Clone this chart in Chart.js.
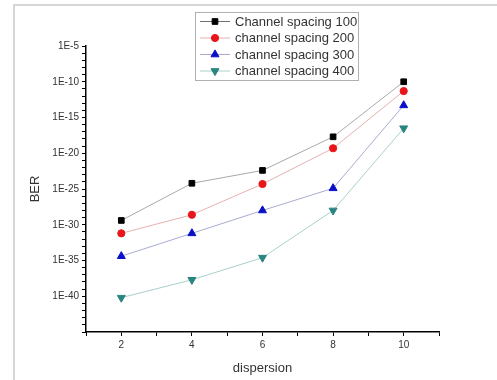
<!DOCTYPE html>
<html>
<head>
<meta charset="utf-8">
<script src="https://cdn.jsdelivr.net/npm/chart.js@4/dist/chart.umd.min.js"></script>
<style>
html,body{margin:0;padding:0;background:#fff;}
#wrap{position:relative;width:497px;height:380px;}
</style>
</head>
<body>
<div id="wrap"><canvas id="c" width="497" height="380"></canvas></div>
<script>
// ---- data (exponents of BER) ----
const dispersion = [2, 4, 6, 8, 10];
const seriesNames = ['Channel spacing 100', 'channel spacing 200', 'channel spacing 300', 'channel spacing 400'];
const cs100Exp = [-29.4, -24.2, -22.4, -17.7, -10.0];
const cs200Exp = [-31.2, -28.6, -24.3, -19.3, -11.3];
const cs300Exp = [-34.4, -31.2, -28.0, -24.9, -13.3];
const cs400Exp = [-40.2, -37.7, -34.6, -28.0, -16.5];
const yTickExp = [-5, -10, -15, -20, -25, -30, -35, -40];
const xTickLabels = [2, 4, 6, 8, 10];

const markerColors = ['#000000', '#e8161b', '#0a10c8', '#2a8580'];
const lineColors = ['#a8a8a8', '#e8b0b0', '#a8acd0', '#a8d0cc'];
const styles = ['rect', 'circle', 'triangle', 'triangle'];
const rotations = [0, 0, 0, 180];
const radii = [4, 3.6, 4.6, 4.6];
const allExp = [cs100Exp, cs200Exp, cs300Exp, cs400Exp];

const datasets = allExp.map((exps, i) => ({
  label: seriesNames[i],
  data: dispersion.map((x, j) => ({x: x, y: Math.pow(10, exps[j])})),
  borderColor: lineColors[i],
  borderWidth: 1,
  backgroundColor: markerColors[i],
  pointBackgroundColor: markerColors[i],
  pointBorderColor: markerColors[i],
  pointBorderWidth: 1,
  pointStyle: styles[i],
  pointRotation: rotations[i],
  pointRadius: radii[i],
  pointHoverRadius: radii[i],
  tension: 0,
  fill: false
}));

const FONT = '"Liberation Sans", Arial, sans-serif';

function drawMarker(ctx, style, rot, r, x, y, color) {
  ctx.save();
  ctx.fillStyle = color;
  ctx.strokeStyle = color;
  ctx.lineWidth = 1;
  ctx.translate(x, y);
  ctx.rotate(rot * Math.PI / 180);
  ctx.beginPath();
  if (style === 'rect') {
    const s = r / Math.SQRT2;
    ctx.rect(-s, -s, 2 * s, 2 * s);
  } else if (style === 'circle') {
    ctx.arc(0, 0, r, 0, Math.PI * 2);
  } else {
    ctx.moveTo(0, -r);
    ctx.lineTo(r * Math.sin(Math.PI / 3), r * 0.5);
    ctx.lineTo(-r * Math.sin(Math.PI / 3), r * 0.5);
    ctx.closePath();
  }
  ctx.fill();
  ctx.stroke();
  ctx.restore();
}

const framePlugin = {
  id: 'frame',
  beforeDraw(chart) {
    const ctx = chart.ctx;
    ctx.save();
    ctx.strokeStyle = '#d6d6d6';
    ctx.lineWidth = 2;
    ctx.beginPath();
    ctx.moveTo(14, 380);
    ctx.lineTo(14, 5);
    ctx.lineTo(497, 5);
    ctx.stroke();
    ctx.restore();
  }
};

const legendPlugin = {
  id: 'boxLegend',
  afterDraw(chart) {
    const ctx = chart.ctx;
    const x0 = 195, y0 = 12, w = 163, h = 68;
    ctx.save();
    ctx.fillStyle = '#ffffff';
    ctx.fillRect(x0, y0, w, h);
    ctx.strokeStyle = '#b0b0b0';
    ctx.lineWidth = 1;
    ctx.strokeRect(x0 + 0.5, y0 + 0.5, w, h);
    ctx.font = '13px ' + FONT;
    ctx.textBaseline = 'middle';
    ctx.textAlign = 'left';
    chart.data.datasets.forEach((ds, i) => {
      const y = y0 + 9.5 + i * 16.5;
      ctx.strokeStyle = i === 0 ? '#707070' : ds.borderColor;
      ctx.beginPath();
      ctx.moveTo(x0 + 5, y);
      ctx.lineTo(x0 + 35, y);
      ctx.stroke();
      drawMarker(ctx, ds.pointStyle, ds.pointRotation, ds.pointRadius, x0 + 20, y, ds.pointBackgroundColor);
      ctx.fillStyle = '#333333';
      ctx.fillText(ds.label, x0 + 40, y + 0.5);
    });
    ctx.restore();
  }
};

new Chart(document.getElementById('c'), {
  type: 'line',
  data: {datasets: datasets},
  options: {
    responsive: false,
    animation: false,
    events: [],
    layout: {padding: {left: 20, top: 46, right: 58, bottom: 0}},
    plugins: {legend: {display: false}, tooltip: {enabled: false}},
    scales: {
      x: {
        type: 'linear',
        min: 1, max: 11,
        afterFit(scale) { scale.height = 48; },
        afterBuildTicks(scale) {
          const t = [];
          for (let v = 1; v <= 11; v++) t.push({value: v});
          scale.ticks = t;
        },
        ticks: {
          autoSkip: false,
          maxRotation: 0,
          padding: 3,
          color: '#333333',
          font: {family: FONT, size: 10},
          callback: (v) => xTickLabels.includes(v) ? String(v) : ''
        },
        grid: {drawOnChartArea: false, drawTicks: true, tickLength: 4, color: '#000', lineWidth: 1},
        border: {display: true, color: '#000', width: 1.5},
        title: {display: true, text: 'dispersion', color: '#333333', font: {family: FONT, size: 13}, padding: {top: 0, bottom: 4}}
      },
      y: {
        type: 'logarithmic',
        min: 1e-45, max: 1e-5,
        afterFit(scale) { scale.width = 66; },
        afterBuildTicks(scale) {
          const t = [];
          for (let e = -45; e <= -5; e++) t.push({value: Math.pow(10, e)});
          scale.ticks = t;
        },
        ticks: {
          autoSkip: false,
          padding: 3,
          color: '#333333',
          font: {family: FONT, size: 10},
          callback: (v) => {
            const e = Math.round(Math.log10(v));
            return yTickExp.includes(e) ? '1E' + e : '';
          }
        },
        grid: {drawOnChartArea: false, drawTicks: true, tickLength: 4, color: '#000', lineWidth: 1},
        border: {display: true, color: '#000', width: 1.5},
        title: {display: true, text: 'BER', color: '#333333', font: {family: FONT, size: 13}, padding: {top: 8, bottom: 0}}
      }
    }
  },
  plugins: [framePlugin, legendPlugin]
});
</script>
</body>
</html>
